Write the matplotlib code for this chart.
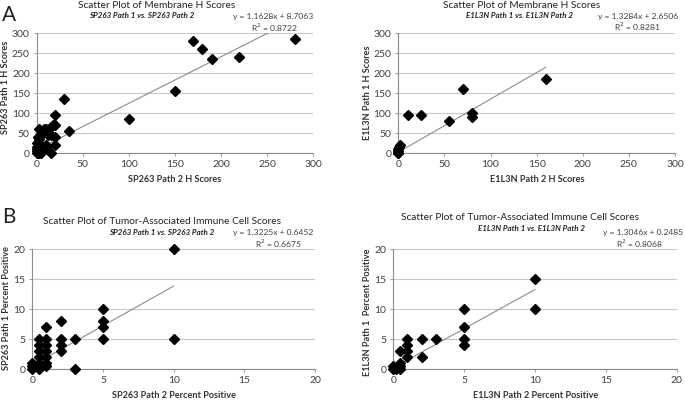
import matplotlib
matplotlib.use("Agg")
import matplotlib.pyplot as plt
import numpy as np

plt.rcParams['font.family'] = ['Lato', 'DejaVu Sans']

W, H = 685, 401

# panel A, SP263 membrane H scores (x = path 2, y = path 1)
a1_x = [0, 0, 0, 0, 0, 1, 2, 3, 3, 5, 5, 5, 5, 8, 10, 10, 10, 12, 15, 15, 15, 18, 20, 20, 20, 20,
        30, 35, 2, 1, 7, 100, 150, 170, 180, 190, 220, 280]
a1_y = [0, 5, 10, 15, 25, 2, 62, 0, 35, 0, 45, 55, 20, 60, 60, 20, 15, 45, 65, 45, 2, 70, 95, 70, 40, 20,
        135, 55, 20, 40, 8, 85, 155, 280, 260, 235, 240, 285]
a1_fit = (1.1628, 8.7063)

# panel A, E1L3N membrane H scores
a2_x = [0, 0, 0, 0, 1, 2, 10, 25, 55, 70, 80, 80, 160]
a2_y = [0, 2, 5, 10, 15, 20, 95, 95, 80, 160, 100, 90, 185]
a2_fit = (1.3284, 2.6506)

# panel B, SP263 immune cell percent positive
b1_x = [0, 0, 0, 0.5, 0.5, 0.5, 0.5, 0.5, 0.5, 0.5, 1, 1, 1, 1, 1, 1, 1,
        2, 2, 2, 2, 3, 3, 5, 5, 5, 5, 10, 10]
b1_y = [0, 0.5, 1, 0, 0.5, 1, 2, 3, 4, 5, 0.5, 1, 2, 3, 4, 5, 7,
        3, 4, 5, 8, 5, 0, 5, 7, 8, 10, 5, 20]
b1_fit = (1.3225, 0.6452)

# panel B, E1L3N immune cell percent positive
b2_x = [0, 0, 0.2, 0.5, 0.5, 0.5, 0.5, 1, 1, 1, 1, 2, 2, 3, 5, 5, 5, 5, 10, 10]
b2_y = [0, 0.5, 0, 0, 0.5, 1, 3, 2, 3, 4, 5, 2, 5, 5, 4, 5, 7, 10, 10, 15]
b2_fit = (1.3046, 0.2485)

panels = [
    dict(x=a1_x, y=a1_y, fit=a1_fit, r2='0.8722', lim=300, step=50, box=(36.7, 313, 33.3, 153.3),
         title='Scatter Plot of Membrane H Scores', sub='SP263 Path 1 vs. SP263 Path 2',
         xlab='SP263 Path 2 H Scores', ylab='SP263 Path 1 H Scores',
         tpos=(157, 6), spos=(142, 16), epos=(313, 17), rpos=(274, 28), xlpos=(175, 180), ylpos=(6, 87)),
    dict(x=a2_x, y=a2_y, fit=a2_fit, r2='0.8281', lim=300, step=50, box=(398.3, 675, 33.3, 153.3),
         title='Scatter Plot of Membrane H Scores', sub='E1L3N Path 1 vs. E1L3N Path 2',
         xlab='E1L3N Path 2 H Scores', ylab='E1L3N Path 1 H Scores',
         tpos=(522, 6), spos=(520, 16), epos=(678, 17), rpos=(637, 27), xlpos=(537, 180), ylpos=(368, 93)),
    dict(x=b1_x, y=b1_y, fit=b1_fit, r2='0.6675', lim=20, step=5, box=(32.3, 315, 249.3, 369.3),
         title='Scatter Plot of Tumor-Associated Immune Cell Scores', sub='SP263 Path 1 vs. SP263 Path 2',
         xlab='SP263 Path 2 Percent Positive', ylab='SP263 Path 1 Percent Positive',
         tpos=(162, 221), spos=(162, 232), epos=(313, 233), rpos=(278, 244), xlpos=(174, 396), ylpos=(7, 308)),
    dict(x=b2_x, y=b2_y, fit=b2_fit, r2='0.8068', lim=20, step=5, box=(393.3, 676.7, 249.3, 369.3),
         title='Scatter Plot of Tumor-Associated Immune Cell Scores', sub='E1L3N Path 1 vs. E1L3N Path 2',
         xlab='E1L3N Path 2 Percent Positive', ylab='E1L3N Path 1  Percent Positive',
         tpos=(520, 217), spos=(531, 229), epos=(683, 233), rpos=(639, 244), xlpos=(536, 396), ylpos=(368, 312)),
]

fig = plt.figure(figsize=(W / 100, H / 100), dpi=100)


def fx(x):
    return x / W


def fy(y):
    return 1 - y / H


for p in panels:
    l, r, t, b = p['box']
    ax = fig.add_axes([fx(l), fy(b), fx(r) - fx(l), fy(t) - fy(b)])
    ax.plot(p['x'], p['y'], 'D', color='black', markersize=4.8, clip_on=False, zorder=3)
    xs = np.array([min(p['x']), max(p['x'])])
    m, c = p['fit']
    ax.plot(xs, m * xs + c, color='#8c8c8c', lw=0.8, zorder=2)
    ax.set_xlim(0, p['lim'])
    ax.set_ylim(0, p['lim'])
    ticks = np.arange(0, p['lim'] + 1, p['step'])
    ax.set_xticks(ticks)
    ax.set_yticks(ticks)
    ax.grid(axis='y', color='#c8c8c8', lw=0.8)
    ax.set_axisbelow(True)
    for s in ['top', 'right']:
        ax.spines[s].set_visible(False)
    for s in ['left', 'bottom']:
        ax.spines[s].set_color('#8c8c8c')
        ax.spines[s].set_linewidth(0.8)
    ax.tick_params(labelsize=7.5, colors='#8c8c8c', labelcolor='#404040', length=2, width=0.6, pad=3)

    fig.text(fx(p['tpos'][0]), fy(p['tpos'][1]), p['title'], ha='center', va='center', fontsize=7.3, color='#222222')
    fig.text(fx(p['spos'][0]), fy(p['spos'][1]), p['sub'], ha='center', va='center', fontsize=5.8,
             fontweight='bold', style='italic', color='#222222')
    fig.text(fx(p['epos'][0]), fy(p['epos'][1]), 'y = %.4fx + %.4f' % p['fit'], ha='right', va='center',
             fontsize=6.1, color='#404040')
    fig.text(fx(p['rpos'][0]), fy(p['rpos'][1]), 'R$^2$ = ' + p['r2'], ha='center', va='center',
             fontsize=6.1, color='#404040')
    fig.text(fx(p['xlpos'][0]), fy(p['xlpos'][1]), p['xlab'], ha='center', va='center', fontsize=6.6,
             fontweight='bold', color='#333333')
    fig.text(fx(p['ylpos'][0]), fy(p['ylpos'][1]), p['ylab'], ha='center', va='center', fontsize=6.6,
             fontweight='bold', color='#333333', rotation=90)

fig.text(fx(9), fy(15), 'A', ha='center', va='center', fontsize=15, color='#222222')
fig.text(fx(9), fy(217), 'B', ha='center', va='center', fontsize=15, color='#222222')

fig.savefig('out.png', dpi=100)
